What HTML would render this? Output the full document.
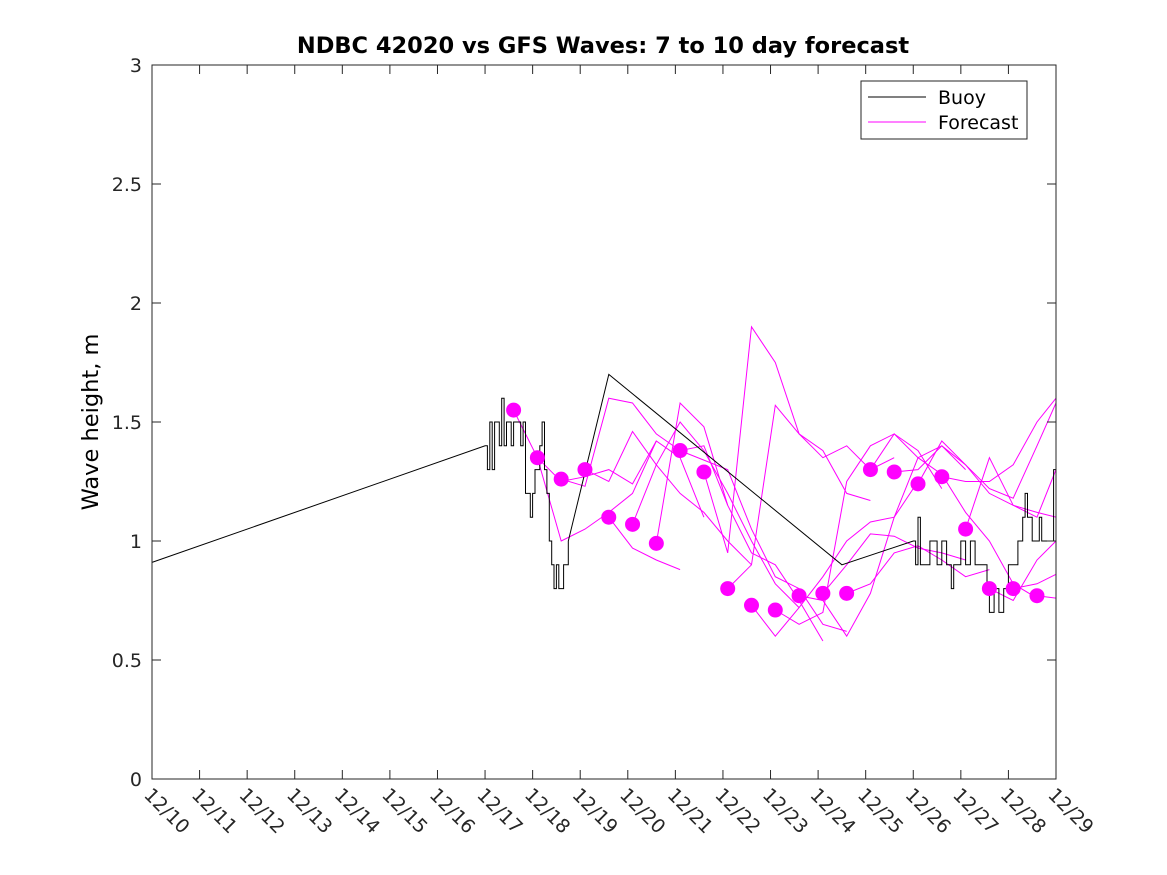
<!DOCTYPE html>
<html><head><meta charset="utf-8"><style>
html,body{margin:0;padding:0;background:#fff;}
svg{display:block;font-family:"DejaVu Sans","Liberation Sans",sans-serif;}
</style></head><body>
<svg id="chart" width="1167" height="875" xmlns="http://www.w3.org/2000/svg">
<rect width="1167" height="875" fill="#fff"/>
<text x="603" y="53" text-anchor="middle" font-size="22.5" font-weight="bold">NDBC 42020 vs GFS Waves: 7 to 10 day forecast</text>
<text transform="translate(98,422) rotate(-90)" text-anchor="middle" font-size="22.5">Wave height, m</text>
<g id="plot"></g>
<g>
<rect x="861" y="81" width="166" height="58" fill="#fff" stroke="#262626" stroke-width="1"/>
<line x1="868" y1="97" x2="926" y2="97" stroke="#000" stroke-width="1"/>
<text x="938" y="104" font-size="19">Buoy</text>
<line x1="868" y1="122" x2="926" y2="122" stroke="#f0f" stroke-width="1"/>
<text x="938" y="129" font-size="19">Forecast</text>
</g>
</svg>
<script>
const xTickLabels = ["12/10","12/11","12/12","12/13","12/14","12/15","12/16","12/17","12/18","12/19","12/20","12/21","12/22","12/23","12/24","12/25","12/26","12/27","12/28","12/29"];
const yTicks = [0,0.5,1,1.5,2,2.5,3];
const yTickLabels = ["0","0.5","1","1.5","2","2.5","3"];
const buoyDays = [0,7.0,7.05,7.1,7.15,7.2,7.25,7.3,7.35,7.4,7.45,7.5,7.55,7.6,7.7,7.75,7.8,7.85,7.9,7.95,8.0,8.05,8.1,8.15,8.2,8.25,8.3,8.35,8.4,8.45,8.5,8.55,8.6,8.65,8.7,8.75,9.6,14.5,16.0,16.05,16.1,16.15,16.3,16.35,16.5,16.6,16.7,16.8,16.85,17.0,17.1,17.2,17.3,17.5,17.55,17.6,17.7,17.8,17.9,18.0,18.1,18.2,18.3,18.35,18.4,18.5,18.6,18.65,18.7,18.9,18.95,19];
const buoyValues = [0.91,1.40,1.30,1.5,1.3,1.5,1.5,1.4,1.6,1.4,1.5,1.5,1.4,1.5,1.5,1.4,1.5,1.2,1.2,1.1,1.2,1.3,1.3,1.4,1.5,1.3,1.2,1.0,0.9,0.8,0.9,0.8,0.8,0.9,0.9,1.0,1.70,0.90,1.00,0.9,1.1,0.9,0.9,1.0,0.9,1.0,0.9,0.8,0.9,1.0,0.9,1.0,0.9,0.9,0.8,0.7,0.8,0.7,0.8,0.9,0.9,1.0,1.1,1.2,1.1,1.0,1.0,1.1,1.0,1.0,1.3,1.3];
const forecastStartDays = [7.6,8.1,8.6,9.1,9.6,10.1,10.6,11.1,11.6,12.1,12.6,13.1,13.6,14.1,14.6,15.1,15.6,16.1,16.6,17.1,17.6,18.1,18.6];
const forecastValues = [
 [1.55,1.35,1.00,1.05,1.12,1.20,1.42],
 [1.35,1.25,1.27,1.30,1.24,1.42,1.35,1.10],
 [1.26,1.23,1.60,1.58,1.45,1.38,1.40,1.15],
 [1.30,1.25,1.46,1.32,1.20,1.12,1.00,0.90],
 [1.10,0.97,0.92,0.88],
 [1.07,1.32,1.50,1.38,1.20,1.00,0.82,0.72],
 [0.99,1.58,1.48,1.15,0.95,0.90,0.75,0.58],
 [1.38,1.34,1.30,1.05,0.85,0.80,0.65,0.62],
 [1.29,0.95,1.90,1.75,1.45,1.38,1.20,1.17],
 [0.80,0.90,1.57,1.45,1.35,1.40,1.30,1.35],
 [0.73,0.60,0.72,0.85,1.00,1.08,1.10,1.25],
 [0.71,0.65,0.70,1.25,1.40,1.45,1.38,1.22],
 [0.77,0.75,0.60,0.78,1.10,1.35,1.40,1.30],
 [0.78,0.90,1.03,1.02,0.97,0.95,0.92],
 [0.78,0.82,0.95,0.98,0.92,0.85,0.88],
 [1.30,1.45,1.35,1.28,1.12,1.00,0.82,0.76],
 [1.29,1.30,1.40,1.32,1.20,1.15,1.12,1.10],
 [1.24,1.42,1.32,1.22,1.18,1.40,1.58,1.60],
 [1.27,1.25,1.25,1.32,1.50,1.60,1.55,1.45],
 [1.05,1.35,1.15,1.10,1.30,1.55,1.50,1.28],
 [0.80,0.75,0.92,1.00,0.95,0.88,0.90],
 [0.80,0.82,0.86,0.90,0.92],
 [0.77,0.76,0.74]
];
const stepDays = 0.5;

const L=152,R=1056,T=65,B=779,xMax=19,yMax=3;
const NS="http://www.w3.org/2000/svg";
const xs=d=>L+(d/xMax)*(R-L);
const ys=v=>B-(v/yMax)*(B-T);
const plot=document.getElementById('plot');
function mk(tag,attrs){const e=document.createElementNS(NS,tag);for(const k in attrs)e.setAttribute(k,attrs[k]);plot.appendChild(e);return e;}

const defs=mk('defs',{});
const cp=document.createElementNS(NS,'clipPath');cp.setAttribute('id','clip');
const cr=document.createElementNS(NS,'rect');cr.setAttribute('x',L);cr.setAttribute('y',T);cr.setAttribute('width',R-L);cr.setAttribute('height',B-T);
cp.appendChild(cr);defs.appendChild(cp);

forecastStartDays.forEach((s,i)=>{
 const pts=forecastValues[i].map((v,j)=>xs(Math.min(s+j*stepDays,xMax)).toFixed(1)+','+ys(v).toFixed(1)).join(' ');
 const pl=mk('polyline',{points:pts,fill:'none',stroke:'#f0f','stroke-width':1,'clip-path':'url(#clip)'});
 
 
});
// buoy drawn as steps for the noisy parts
let bpts=[];
buoyDays.forEach((d,i)=>{
 if(i>0 && buoyDays[i]-buoyDays[i-1]<0.2){bpts.push(xs(d).toFixed(1)+','+ys(buoyValues[i-1]).toFixed(1));}
 bpts.push(xs(d).toFixed(1)+','+ys(buoyValues[i]).toFixed(1));
});
const bl=mk('polyline',{points:bpts.join(' '),fill:'none',stroke:'#000','stroke-width':1});


forecastStartDays.forEach((s,i)=>{
 const c=mk('circle',{cx:xs(s),cy:ys(forecastValues[i][0]),r:7.5,fill:'#f0f'});
 
 
});
const box=mk('rect',{x:L,y:T,width:R-L,height:B-T,fill:'none',stroke:'#262626','stroke-width':1});


xTickLabels.forEach((lab,i)=>{
 const x=xs(i);
 mk('line',{x1:x,y1:B,x2:x,y2:B-9,stroke:'#262626'});
 mk('line',{x1:x,y1:T,x2:x,y2:T+9,stroke:'#262626'});
 const t=mk('text',{transform:`translate(${x-9},${B+17}) rotate(45)`,'font-size':19,fill:'#262626'});
 t.textContent=lab;
 
 
});
yTicks.forEach((v,i)=>{
 const y=ys(v);
 mk('line',{x1:L,y1:y,x2:L+9,y2:y,stroke:'#262626'});
 mk('line',{x1:R,y1:y,x2:R-9,y2:y,stroke:'#262626'});
 const t=mk('text',{x:L-10,y:y+7,'text-anchor':'end','font-size':19,fill:'#262626'});
 t.textContent=yTickLabels[i];
 
 
});
</script>
</body></html>
